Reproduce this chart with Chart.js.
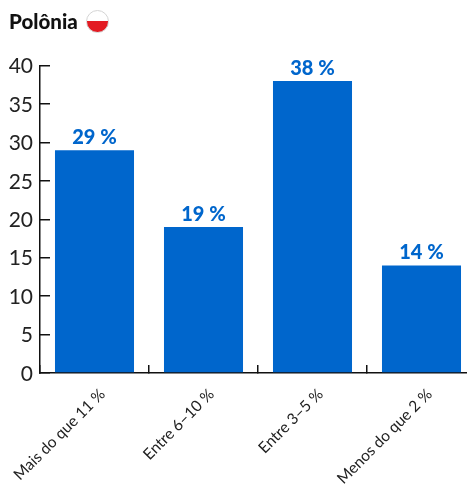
<!DOCTYPE html>
<html>
<head>
<meta charset="utf-8">
<style>
html, body { margin: 0; padding: 0; background: #fff; overflow: hidden; }
#wrap { position: relative; width: 467px; height: 484px; overflow: hidden; }
#flag { position: absolute; left: 86px; top: 10px; width: 21px; height: 21px; border-radius: 50%; border: 1px solid #d4d4d4;
  background: linear-gradient(#fff 50%, #e31b23 50%); }
</style>
<script src="https://cdn.jsdelivr.net/npm/chart.js@4"></script>
</head>
<body>
<div id="wrap">
  <canvas id="myChart" width="480" height="484"></canvas>
  <div id="flag"></div>
</div>
<script>
var sTitle = "Polônia";
var aCategories = ["Mais do que 11 %", "Entre 6–10 %", "Entre 3–5 %", "Menos do que 2 %"];
var aValues = [29, 19, 38, 14];
var aYTicks = [0, 5, 10, 15, 20, 25, 30, 35, 40];

// 柱顶数值标签
var barLabels = {
    id: "barLabels",
    afterDatasetsDraw: function (chart) {
        var ctx = chart.ctx;
        var meta = chart.getDatasetMeta(0);
        ctx.save();
        ctx.font = "900 20px Lato";
        ctx.fillStyle = "#0066cc";
        ctx.textAlign = "center";
        ctx.textBaseline = "alphabetic";
        meta.data.forEach(function (bar, i) {
            ctx.fillText(aValues[i] + " %", bar.x, bar.y - 6);
        });
        ctx.restore();
    }
};

var ctx = document.getElementById("myChart");
var chart = new Chart(ctx, {
    type: "bar",
    plugins: [barLabels],
    data: {
        labels: aCategories,
        datasets: [{
            data: aValues,
            backgroundColor: "#0066cc",
            barPercentage: 0.725,
            categoryPercentage: 1
        }]
    },
    options: {
        responsive: false,
        animation: false,
        layout: { padding: { left: 9, right: 4, top: 0, bottom: 0 } },
        plugins: {
            legend: { display: false },
            tooltip: { enabled: false },
            title: {
                display: true,
                text: sTitle,
                align: "start",
                color: "#111",
                font: { family: "Lato", size: 20.5, weight: "900" },
                padding: { top: 10, bottom: 31 }
            }
        },
        scales: {
            x: {
                afterFit: function (scale) {
                    scale.height = 111;
                    // 旋转标签不要把绘图区往右挤
                    scale.paddingLeft = 0;
                    scale.paddingRight = 0;
                },
                border: { color: "#111", width: 1.5 },
                grid: { drawOnChartArea: false, tickLength: -8, color: "#111", lineWidth: 1.5 },
                ticks: {
                    color: "#222",
                    font: { family: "Lato", size: 15.5 },
                    minRotation: 45,
                    maxRotation: 45,
                    padding: 20,
                    labelOffset: 8,
                    autoSkip: false
                }
            },
            y: {
                min: 0,
                max: 40,
                afterBuildTicks: function (scale) {
                    scale.ticks = aYTicks.map(function (v) { return { value: v }; });
                },
                afterFit: function (scale) { scale.width = 31; },
                border: { color: "#111", width: 1.5 },
                grid: { drawOnChartArea: false, tickLength: -10, color: "#111", lineWidth: 1.5 },
                ticks: {
                    color: "#222",
                    font: { family: "Lato", size: 21 },
                    padding: 17,
                    labelOffset: 1
                }
            }
        }
    }
});
</script>
</body>
</html>
